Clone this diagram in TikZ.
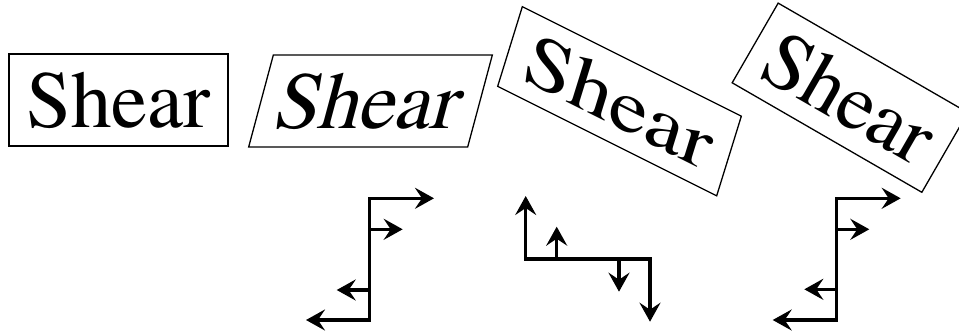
\documentclass[tikz,border=0pt]{standalone}
\usepackage{fontspec}
\newfontfamily\wordfont{texgyretermes-regular.otf}
\usetikzlibrary{arrows.meta}
\begin{document}
\begin{tikzpicture}[x=1pt, y=1pt,
  word/.style={draw, line width=1.3pt, minimum width=219pt, minimum height=92pt,
    inner sep=0pt, transform shape, font=\wordfont\fontsize{81}{90}\selectfont},
  flow/.style={line width=3.4pt, -{Stealth[length=19pt, width=21pt, inset=7pt]}},
  zigzag/.style={line width=3.4pt, {Stealth[length=19pt, width=21pt, inset=7pt]}-{Stealth[length=19pt, width=21pt, inset=7pt]}},
]
\useasboundingbox (0,0) rectangle (959,-330);

% the word, then the three successive shears that make up a rotation by -30 degrees
\node[word] (plain) at (118.5,-100) {Shear};
\begin{scope}[shift={(370.5,-101)}, xslant=0.268]
  \node[word] (xsheared) at (0,0) {Shear};
\end{scope}
\begin{scope}[shift={(619.5,-101.25)}, yslant=-0.5, xslant=0.268]
  \node[word] (ysheared) at (0,0) {Shear};
\end{scope}
\begin{scope}[shift={(850,-97.7)}, rotate=-30]
  \node[word] (rotated) at (0,0) {Shear};
\end{scope}

% horizontal shear field under the first shear
\coordinate (a-tl) at (369.3,-198.3);
\coordinate (a-bl) at (369.3,-320);
\coordinate (a-top) at (434,-198.3);
\coordinate (a-bot) at (306,-320);
\coordinate (a-m1) at (369.3,-229.3);
\coordinate (a-m1t) at (402.7,-229.3);
\coordinate (a-m2) at (369.3,-290);
\coordinate (a-m2t) at (336.7,-290);
\draw[zigzag] (a-bot) -- (a-bl) -- (a-tl) -- (a-top);
\draw[flow] (a-m1) -- (a-m1t);
\draw[flow] (a-m2) -- (a-m2t);

% vertical shear field under the second shear
\coordinate (b-l) at (525.7,-259);
\coordinate (b-r) at (650,-259);
\coordinate (b-up) at (525.7,-196);
\coordinate (b-down) at (650,-321.7);
\coordinate (b-m1) at (556.7,-259);
\coordinate (b-m1t) at (556.7,-226.7);
\coordinate (b-m2) at (619,-259);
\coordinate (b-m2t) at (619,-291.7);
\draw[zigzag] (b-up) -- (b-l) -- (b-r) -- (b-down);
\draw[flow] (b-m1) -- (b-m1t);
\draw[flow] (b-m2) -- (b-m2t);

% horizontal shear field under the third shear
\coordinate (c-tl) at (836.7,-198.3);
\coordinate (c-bl) at (836.7,-320);
\coordinate (c-top) at (900.7,-198.3);
\coordinate (c-bot) at (772.7,-320);
\coordinate (c-m1) at (836.7,-229.3);
\coordinate (c-m1t) at (869.3,-229.3);
\coordinate (c-m2) at (836.7,-289.3);
\coordinate (c-m2t) at (804.3,-289.3);
\draw[zigzag] (c-bot) -- (c-bl) -- (c-tl) -- (c-top);
\draw[flow] (c-m1) -- (c-m1t);
\draw[flow] (c-m2) -- (c-m2t);
\end{tikzpicture}
\end{document}
